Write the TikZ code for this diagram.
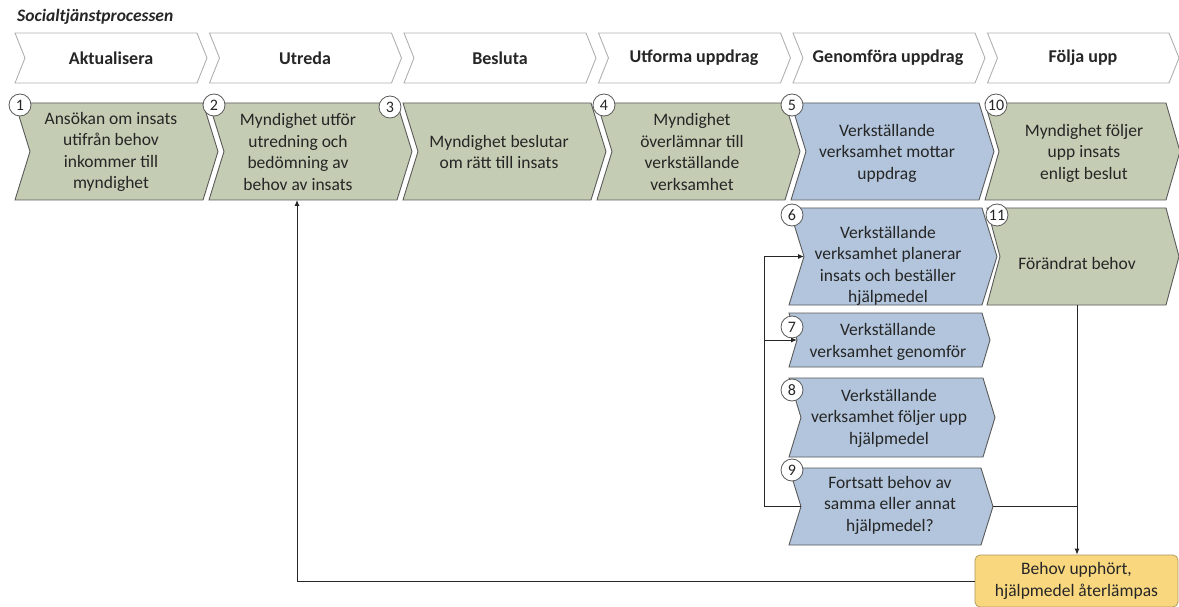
\documentclass[tikz,border=0pt]{standalone}
\usepackage{fontspec}
\setmainfont{Carlito}
\usetikzlibrary{arrows.meta}
\definecolor{grn}{HTML}{C4CCB3}
\definecolor{blu}{HTML}{B2C5DC}
\definecolor{yelw}{HTML}{F8D77F}
\definecolor{ink}{HTML}{262626}
\definecolor{edge}{HTML}{5A5A5A}
\definecolor{hedge}{HTML}{B0B0B0}
% #1 name, #2 x1, #3 x2, #4 y1, #5 y2, #6 depth, #7 style
\newcommand\chev[7]{%
  \path[#7] (#2,#4) -- (#3,#4) -- ({#3+#6},{(#4+#5)/2}) -- (#3,#5) -- (#2,#5) -- ({#2+#6},{(#4+#5)/2}) -- cycle;
  \coordinate (#1-w) at ({#2+#6},{(#4+#5)/2});
  \coordinate (#1-e) at ({#3+#6},{(#4+#5)/2});
}
\begin{document}
\begin{tikzpicture}[x=1pt,y=-1pt,
  hdrbox/.style={fill=white,draw=hedge,line width=0.9pt},
  gbox/.style={fill=grn,draw=edge,line width=0.9pt},
  bbox/.style={fill=blu,draw=edge,line width=0.9pt},
  txt/.style={align=center,text=ink,inner sep=0pt,font=\fontsize{17.5}{21.5}\selectfont},
  hdr/.style={align=center,text=ink,inner sep=0pt,font=\bfseries\fontsize{18}{20}\selectfont},
  num/.style={circle,draw=edge,fill=white,line width=0.8pt,minimum size=22pt,inner sep=0pt,text=ink,font=\fontsize{16}{16}\selectfont},
  conn/.style={draw=ink,line width=1pt},
  arr/.style={conn,-{Latex[length=6pt,width=5pt]}}]
\useasboundingbox (0,0) rectangle (1179,607);
\fill[white] (0,0) rectangle (1179,607);

% title
\node[anchor=west,inner sep=0pt,text=ink,font=\bfseries\itshape\fontsize{17.5}{18}\selectfont] (title) at (17,17) {Socialtjänstprocessen};

% headers
\chev{h1}{15}{197}{33}{83}{10}{hdrbox}
\chev{h2}{209.5}{391.5}{33}{83}{10}{hdrbox}
\chev{h3}{404}{586}{33}{83}{10}{hdrbox}
\chev{h4}{598.5}{780.5}{33}{83}{10}{hdrbox}
\chev{h5}{793}{975}{33}{83}{10}{hdrbox}
\chev{h6}{987.5}{1169}{33}{83}{10}{hdrbox}
\node[hdr] (ht1) at (111,58) {Aktualisera};
\node[hdr] (ht2) at (305,58) {Utreda};
\node[hdr] (ht3) at (500,58) {Besluta};
\node[hdr] (ht4) at (694,58) {Utforma uppdrag};
\node[hdr] (ht5) at (888,58) {Genomföra uppdrag};
\node[hdr] (ht6) at (1083,58) {Följa upp};

% row 1
\chev{b1}{15}{203}{103}{200}{15}{gbox}
\chev{b2}{209}{397}{103}{200}{15}{gbox}
\chev{b3}{403}{591}{103}{200}{15}{gbox}
\chev{b4}{597}{785}{103}{200}{15}{gbox}
\chev{b5}{791}{979}{103}{200}{15}{bbox}
\chev{b10}{985}{1166}{103}{200}{14}{gbox}
\coordinate (b2-s) at (297,200);

\node[txt] (t1) at (111,152) {Ansökan om insats\\utifrån behov\\inkommer till\\myndighet};
\node[txt] (t2) at (298,152) {Myndighet utför\\utredning och\\bedömning av\\behov av insats};
\node[txt] (t3) at (499,152) {Myndighet beslutar\\om rätt till insats};
\node[txt] (t4) at (692,152) {Myndighet\\överlämnar till\\verkställande\\verksamhet};
\node[txt] (t5) at (887,153) {Verkställande\\verksamhet mottar\\uppdrag};
\node[txt] (t10) at (1084,153) {Myndighet följer\\upp insats\\enligt beslut};

% column boxes
\chev{b6}{789}{982}{208}{305}{15}{bbox}
\chev{b11}{987}{1166}{208}{305}{13}{gbox}
\chev{b7}{789}{982}{313}{367}{8}{bbox}
\chev{b8}{789}{983}{378}{457}{12}{bbox}
\chev{b9}{789}{981}{468}{545}{12}{bbox}
\coordinate (b11-s) at (1077,305);

\node[txt] (t6) at (888,266) {Verkställande\\verksamhet planerar\\insats och beställer\\hjälpmedel};
\node[txt] (t11) at (1077,263) {Förändrat behov};
\node[txt] (t7) at (888,342) {Verkställande\\verksamhet genomför};
\node[txt] (t8) at (889,418) {Verkställande\\verksamhet följer upp\\hjälpmedel};
\node[txt] (t9) at (890,505) {Fortsatt behov av\\samma eller  annat\\hjälpmedel?};

% yellow box
\node[txt,fill=yelw,draw=yelw!70!black,line width=0.7pt,rounded corners=5pt,minimum width=203pt,minimum height=52pt] (yel) at (1076.5,581) {Behov upphört,\\hjälpmedel återlämpas};

% circles
\node[num] (c1) at (20,105) {1};
\node[num] (c2) at (214,105) {2};
\node[num] (c3) at (390,107) {3};
\node[num] (c4) at (604,105) {4};
\node[num] (c5) at (792,105) {5};
\node[num] (c10) at (996,105) {10};
\node[num] (c6) at (792,215) {6};
\node[num] (c11) at (997,215) {11};
\node[num] (c7) at (792,327) {7};
\node[num] (c8) at (792,390) {8};
\node[num] (c9) at (792,470) {9};

% connectors
\coordinate (lx) at (764,0);
\draw[conn] (b9-w) -- (b9-w -| lx) -- (b6-w -| lx);
\draw[arr] (b6-w -| lx) -- (b6-w);
\draw[arr] (b7-w -| lx) -- (b7-w);
\draw[conn] (b9-e) -- (b9-e -| b11-s);
\draw[arr] (b11-s) -- (yel.north -| b11-s);
\draw[arr] (yel.west) -| (b2-s);
\end{tikzpicture}
\end{document}
